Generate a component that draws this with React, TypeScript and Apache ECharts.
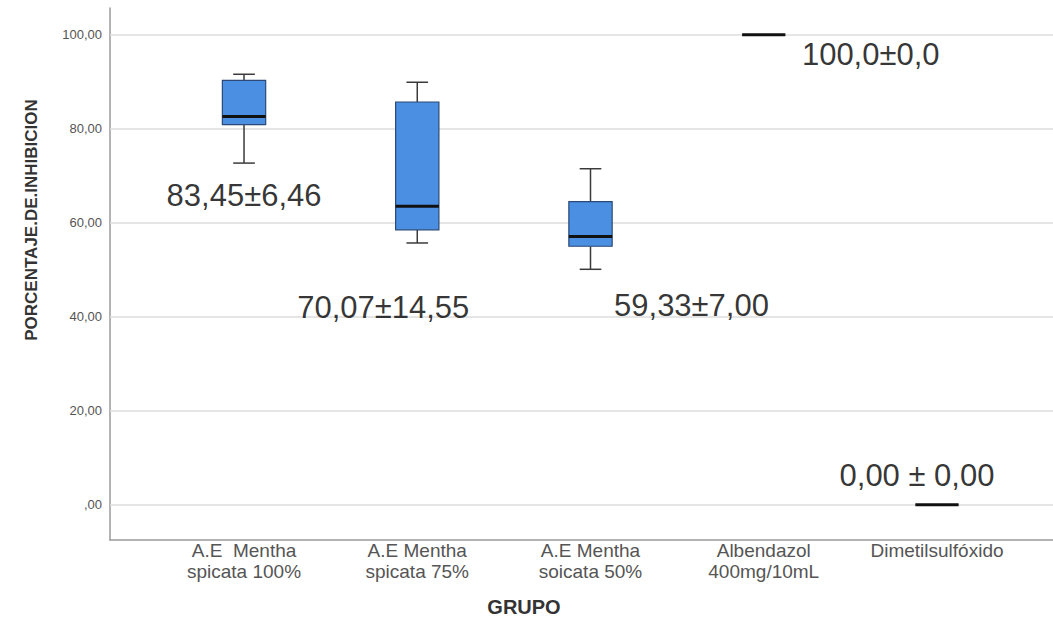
import React, { useEffect, useRef } from "react";
import * as echarts from "echarts";

const categories = [
  "A.E  Mentha\nspicata 100%",
  "A.E Mentha\nspicata 75%",
  "A.E Mentha\nsoicata 50%",
  "Albendazol\n400mg/10mL",
  "Dimetilsulfóxido",
];
const mins = [72.7, 55.7, 50.1, 100, 0];
const q1s = [80.9, 58.5, 55.0, 100, 0];
const medians = [82.6, 63.5, 57.1, 100, 0];
const q3s = [90.3, 85.7, 64.5, 100, 0];
const maxs = [91.6, 89.9, 71.5, 100, 0];

const annotations = ["83,45±6,46", "70,07±14,55", "59,33±7,00", "100,0±0,0", "0,00 ± 0,00"];
const annotationY = [65.9, 42.0, 42.5, 95.7, 6.3];
const annotationDx = [0, -34, 101, 107, -20];

const yTicks = [0, 20, 40, 60, 80, 100];
const yMin = -7.5;
const yMax = 105.7;

export default function App() {
  const ref = useRef<HTMLDivElement>(null);
  useEffect(() => {
    if (!ref.current) return;
    const chart = echarts.init(ref.current, undefined, { renderer: "svg" });
    const boxData = categories.map((_, i) => [i, mins[i], q1s[i], medians[i], q3s[i], maxs[i]]);
    const option: any = {
      animation: false,
      backgroundColor: "#ffffff",
      grid: [
        { left: 157.4, right: 29.4, top: 8, bottom: 101 },
        { left: 110, right: 0, top: 8, bottom: 101 },
      ],
      xAxis: [
        {
          type: "category",
          gridIndex: 0,
          data: categories,
          axisLine: { show: false },
          axisTick: { show: false },
          axisLabel: {
            fontFamily: "Arial, Liberation Sans, sans-serif",
            fontSize: 19,
            color: "#555",
            lineHeight: 21,
            margin: 0,
            interval: 0,
          },
        },
        {
          type: "value",
          gridIndex: 1,
          min: 0,
          max: 1,
          axisLine: { show: true, onZero: false, lineStyle: { color: "#9a9a9a", width: 1.5 } },
          axisTick: { show: false },
          axisLabel: { show: false },
          splitLine: { show: false },
        },
      ],
      yAxis: [
        {
          type: "value",
          gridIndex: 0,
          min: yMin,
          max: yMax,
          show: false,
          splitLine: { show: false },
        },
        {
          type: "value",
          gridIndex: 1,
          min: yMin,
          max: yMax,
          axisLine: { show: true, lineStyle: { color: "#9a9a9a", width: 1.5 } },
          axisTick: { show: false },
          splitLine: { show: false },
          axisLabel: {
            customValues: yTicks,
            fontFamily: "Arial, Liberation Sans, sans-serif",
            fontSize: 13,
            color: "#555",
            margin: 8,
            formatter: (v: number) => (v === 0 ? ",00" : v.toFixed(2).replace(".", ",")),
          },
        },
      ],
      graphic: [
        {
          type: "text",
          x: 31,
          y: 220,
          rotation: Math.PI / 2,
          style: {
            text: "PORCENTAJE.DE.INHIBICION",
            fontFamily: "Arial, Liberation Sans, sans-serif",
            fontWeight: "bold",
            fontSize: 17,
            fill: "#333",
            align: "center",
            verticalAlign: "middle",
          },
        },
        {
          type: "text",
          x: 524,
          y: 607,
          style: {
            text: "GRUPO",
            fontFamily: "Arial, Liberation Sans, sans-serif",
            fontWeight: "bold",
            fontSize: 20,
            fill: "#333",
            align: "center",
            verticalAlign: "middle",
          },
        },
      ],
      series: [
        {
          type: "line",
          xAxisIndex: 1,
          yAxisIndex: 1,
          data: [],
          silent: true,
          z: 1,
          markLine: {
            silent: true,
            symbol: "none",
            z: 1,
            label: { show: false },
            lineStyle: { color: "#dcdcdc", width: 1.5, type: "solid" },
            data: yTicks.map((v) => ({ yAxis: v })),
          },
        },
        {
          type: "custom",
          xAxisIndex: 0,
          yAxisIndex: 0,
          z: 5,
          data: boxData,
          encode: { x: 0, y: [1, 2, 3, 4, 5] },
          renderItem: (params: any, api: any) => {
            const i = api.value(0);
            const lo = api.coord([i, api.value(1)]);
            const q1 = api.coord([i, api.value(2)]);
            const md = api.coord([i, api.value(3)]);
            const q3 = api.coord([i, api.value(4)]);
            const hi = api.coord([i, api.value(5)]);
            const band = api.size([1, 0])[0];
            const hw = band * 0.125;
            const cw = hw / 2;
            const x = md[0];
            const children: any[] = [];
            const whisk = { stroke: "#3a3a3a", lineWidth: 1.5 };
            if (hi[1] !== lo[1]) {
              children.push(
                { type: "line", shape: { x1: x, y1: hi[1], x2: x, y2: q3[1] }, style: whisk },
                { type: "line", shape: { x1: x, y1: q1[1], x2: x, y2: lo[1] }, style: whisk },
                { type: "line", shape: { x1: x - cw, y1: hi[1], x2: x + cw, y2: hi[1] }, style: whisk },
                { type: "line", shape: { x1: x - cw, y1: lo[1], x2: x + cw, y2: lo[1] }, style: whisk },
                {
                  type: "rect",
                  shape: { x: x - hw, y: q3[1], width: hw * 2, height: q1[1] - q3[1] },
                  style: { fill: "#4a8fe2", stroke: "#2b4a75", lineWidth: 1.2 },
                }
              );
            }
            children.push({
              type: "line",
              shape: { x1: x - hw, y1: md[1], x2: x + hw, y2: md[1] },
              style: { stroke: "#111", lineWidth: 3 },
            });
            return { type: "group", children };
          },
        },
        {
          type: "scatter",
          xAxisIndex: 0,
          yAxisIndex: 0,
          symbolSize: 0,
          silent: true,
          z: 6,
          data: annotations.map((t, i) => ({
            value: [i, annotationY[i]],
            label: { offset: [annotationDx[i], 0] },
          })),
          label: {
            show: true,
            position: "inside",
            formatter: (p: any) => annotations[p.dataIndex],
            fontFamily: "Arial, Liberation Sans, sans-serif",
            fontSize: 31,
            color: "#000",
            textBorderWidth: 0,
          },
        },
      ],
    };
    chart.setOption(option);
    return () => chart.dispose();
  }, []);
  return (
    <div
      ref={ref}
      style={{ position: "fixed", left: 0, top: 0, width: 1053, height: 641, background: "#fff" }}
    />
  );
}
